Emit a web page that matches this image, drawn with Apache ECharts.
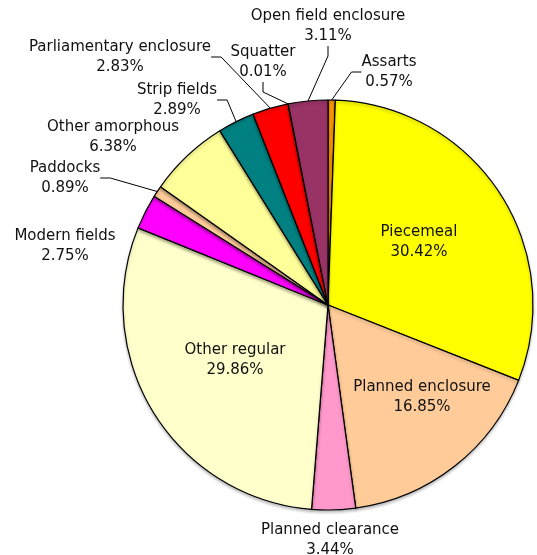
<!DOCTYPE html>
<html>
<head>
<meta charset="utf-8">
<script src="https://cdn.jsdelivr.net/npm/echarts@6/dist/echarts.min.js"></script>
<style>
  html, body { margin: 0; padding: 0; background: #fff; }
  #main { width: 537px; height: 555px; }
</style>
</head>
<body>
<div id="main"></div>
<script>
// field types, clockwise from 12 o'clock
var categories = ['Assarts', 'Piecemeal', 'Planned enclosure', 'Planned clearance', 'Other regular',
    'Modern fields', 'Paddocks', 'Other amorphous', 'Strip fields',
    'Parliamentary enclosure', 'Squatter', 'Open field enclosure'];
var percents = [0.57, 30.42, 16.85, 3.44, 29.86, 2.75, 0.89, 6.38, 2.89, 2.83, 0.01, 3.11];
var colors = ['#ff9900', '#ffff00', '#ffcc99', '#ff99cc', '#ffffcc', '#ff00ff', '#ffcc99',
    '#ffff99', '#008080', '#ff0000', '#ccffff', '#993366'];
// labels drawn without a leader line
var noLine = ['Piecemeal', 'Planned enclosure', 'Other regular', 'Planned clearance',
    'Modern fields', 'Other amorphous'];

// where each label sits (text centre), like the Excel chart
var labelPos = {
    'Piecemeal': [419, 242],
    'Planned enclosure': [422, 397],
    'Planned clearance': [330, 540],
    'Other regular': [235, 360],
    'Modern fields': [65, 246],
    'Paddocks': [65, 178],
    'Other amorphous': [113, 137],
    'Strip fields': [177, 100],
    'Parliamentary enclosure': [120, 57],
    'Squatter': [263, 62],
    'Open field enclosure': [328, 26],
    'Assarts': [389, 72]
};

var myChart = echarts.init(document.getElementById('main'));

var data = categories.map(function (name, i) {
    return {
        name: name,
        value: percents[i],
        itemStyle: {color: colors[i]},
        labelLine: {show: noLine.indexOf(name) < 0}
    };
});

myChart.setOption({
    animation: false,
    series: [
        {
            type: 'pie',
            center: [328, 305],
            radius: 205,
            startAngle: 90,
            clockwise: true,
            avoidLabelOverlap: false,
            data: data,
            itemStyle: {
                borderColor: '#000',
                borderWidth: 1.2,
                shadowColor: 'rgba(0,0,0,0.25)',
                shadowBlur: 3,
                shadowOffsetY: 2
            },
            label: {
                show: true,
                position: 'outside',
                fontFamily: 'DejaVu Sans',
                fontSize: 15,
                color: '#111',
                lineHeight: 20,
                align: 'center',
                formatter: function (p) {
                    return p.name + '\n' + p.value.toFixed(2) + '%';
                }
            },
            labelLine: {
                show: true,
                length: 10,
                length2: 10,
                lineStyle: {color: '#000', width: 1}
            },
            labelLayout: function (params) {
                var pos = labelPos[categories[params.dataIndex]];
                return {
                    x: pos[0],
                    y: pos[1],
                    align: 'center',
                    verticalAlign: 'middle'
                };
            },
            emphasis: {disabled: true}
        }
    ]
});
</script>
</body>
</html>
